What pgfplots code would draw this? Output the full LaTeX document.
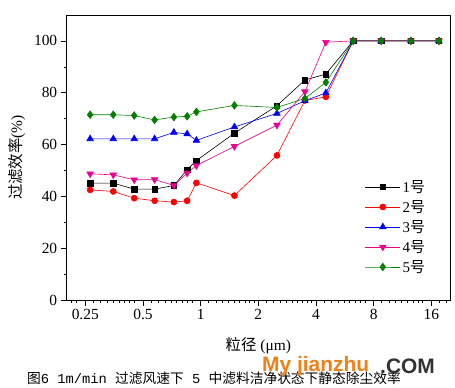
\documentclass[border=0pt]{standalone}
\usepackage{fontspec}
\setmainfont{Liberation Serif}
\setsansfont{Liberation Sans}
\setmonofont{Liberation Mono}
\newfontfamily\cjk{Noto Sans CJK SC}
\usepackage{pgfplots}
\pgfplotsset{compat=1.18}
\definecolor{cgreen}{RGB}{0,128,0}
\definecolor{corange}{RGB}{240,128,24}
\definecolor{cgray}{RGB}{50,50,50}
\begin{document}
\begin{tikzpicture}
\path[use as bounding box] (-66.7bp,-88bp) rectangle (388.3bp,300bp);
\begin{axis}[
  scale only axis,
  width=383.3bp, height=285bp,
  xmode=log,
  xmin=0.2, xmax=20,
  ymin=0, ymax=110,
  xtick={0.25,0.5,1,2,4,8,16},
  xticklabels={0.25,0.5,1,2,4,8,16},
  minor xtick={0.2125,0.225,...,0.2375,0.275,0.3,...,0.475,0.55,0.6,...,0.95,1.1,1.2,...,1.9,2.2,2.4,...,3.8,4.4,4.8,...,7.6,8.8,9.6,...,15.2,17.6,19.2},
  ytick={0,20,40,60,80,100},
  minor ytick={10,30,50,70,90},
  tick pos=left,
  tick align=outside,
  major tick length=6bp,
  minor tick length=3bp,
  tick style={black, line width=0.6pt},
  axis line style={line width=0.8pt},
  /pgf/number format/assume math mode=true,
  tick label style={font=\fontsize{15.5}{18}\selectfont},
  xlabel={{\cjk 粒径} (μm)},
  ylabel={{\cjk 过滤效率}(\%)},
  label style={font=\fontsize{15.5}{18}\selectfont},
  xlabel style={at={(axis description cs:0.5,-0.161)}, anchor=center},
  ylabel style={at={(axis description cs:-0.13,0.5)}, anchor=center},
  legend style={draw=none, fill=none, at={(axis description cs:0.77,0.435)}, anchor=north west,
    font=\fontsize{15}{18}\selectfont, row sep=2.6bp, cells={anchor=west}},
  legend image code/.code={\draw[mark repeat=2,mark phase=2] plot coordinates {(0bp,0bp) (17.5bp,0bp) (35bp,0bp)};},
  every axis plot/.append style={line width=0.6pt},
]
\addplot[black, mark=square*, mark size=2.8bp] coordinates {
(0.265,45.1) (0.35,45.1) (0.45,42.8) (0.575,42.8) (0.725,44.2) (0.85,50.3) (0.95,53.8) (1.5,64.4) (2.5,75.0) (3.5,84.9) (4.5,87.2) (6.25,100) (8.75,100) (12.5,100) (17.5,100)};
\addlegendentry{1{\cjk 号}}
\addplot[red, mark=*, mark size=3bp] coordinates {
(0.265,42.5) (0.35,41.9) (0.45,39.3) (0.575,38.3) (0.725,37.8) (0.85,38.3) (0.95,45.2) (1.5,40.3) (2.5,55.8) (3.5,77.0) (4.5,78.4) (6.25,100) (8.75,100) (12.5,100) (17.5,100)};
\addlegendentry{2{\cjk 号}}
\addplot[blue, mark=triangle*, mark size=3.8bp] coordinates {
(0.265,62.2) (0.35,62.2) (0.45,62.2) (0.575,62.2) (0.725,64.7) (0.85,64.1) (0.95,61.6) (1.5,66.8) (2.5,72.0) (3.5,76.9) (4.5,79.9) (6.25,100) (8.75,100) (12.5,100) (17.5,100)};
\addlegendentry{3{\cjk 号}}
\addplot[magenta, mark=triangle*, mark options={rotate=180}, mark size=3.8bp] coordinates {
(0.265,48.7) (0.35,48.3) (0.45,46.4) (0.575,46.5) (0.725,44.2) (0.85,49.0) (0.95,51.9) (1.5,59.3) (2.5,67.5) (3.5,80.4) (4.5,99.5) (6.25,100) (8.75,100) (12.5,100) (17.5,100)};
\addlegendentry{4{\cjk 号}}
\addplot[cgreen, mark=diamond*, mark size=3.8bp] coordinates {
(0.265,71.5) (0.35,71.5) (0.45,71.2) (0.575,69.5) (0.725,70.6) (0.85,70.9) (0.95,72.6) (1.5,75.1) (2.5,74.3) (3.5,77.8) (4.5,84.0) (6.25,100) (8.75,100) (12.5,100) (17.5,100)};
\addlegendentry{5{\cjk 号}}
\end{axis}
\node[anchor=center, font=\fontsize{13.8}{16}\selectfont] at (147.3bp,-78bp)
  {{\cjk 图}{\ttfamily 6 1m/min }{\cjk 过滤风速下}{\ttfamily\ 5 }{\cjk 中滤料洁净状态下静态除尘效率}};
\node[anchor=west, inner sep=0pt, font=\sffamily\bfseries\fontsize{21}{24}\selectfont, text=corange] at (195.3bp,-66bp) {My jianzhu};
\node[anchor=west, inner sep=0pt, font=\sffamily\bfseries\fontsize{21}{24}\selectfont, text=cgray] at (313.3bp,-66bp) {.COM};
\end{tikzpicture}
\end{document}
